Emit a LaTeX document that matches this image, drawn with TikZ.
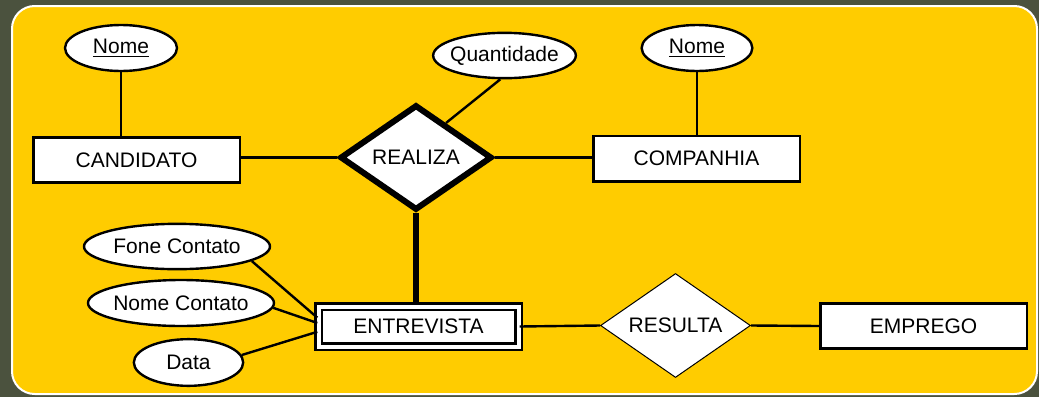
\documentclass[tikz,border=0pt]{standalone}
\usepackage{fontspec}
\setmainfont{Liberation Sans}
\usetikzlibrary{shapes.geometric}
\definecolor{bgolive}{RGB}{75,82,62}
\definecolor{panelyellow}{RGB}{255,204,0}
\begin{document}
\begin{tikzpicture}[x=0.75pt, y=-0.75pt, line width=1.8pt,
  every node/.style={align=center, inner sep=0pt, font=\fontsize{15.75}{18}\selectfont},
  entity/.style={draw, fill=white, rectangle, line width=2pt, minimum width=155pt, minimum height=34pt},
  weakentity/.style={draw, fill=white, rectangle, double=white, double distance=3pt, line width=1.8pt, minimum width=150pt, minimum height=30pt},
  attrib/.style={draw, fill=white, ellipse, line width=1.8pt},
  rel/.style={draw, fill=white, diamond, aspect=1.5}]
\useasboundingbox (0,0) rectangle (1039,397);
\fill[bgolive] (0,0) rectangle (1039,397);
\filldraw[fill=panelyellow, draw=white, line width=1.5pt, rounded corners=17pt] (12,6) rectangle (1037,394);

\node (cand)    [entity]     at (136.5,160)   {CANDIDATO};
\node (comp)    [entity]     at (696.5,158.5) {COMPANHIA};
\node (empr)    [entity]     at (923.5,326)   {EMPREGO};
\node (entr)    [weakentity] at (418.5,326.5) {ENTREVISTA};
\node (realiza) [rel, line width=4.5pt, minimum width=114pt, minimum height=79pt] at (416,157.5) {REALIZA};
\node (resulta) [rel, line width=0.75pt, minimum width=112.5pt, minimum height=78pt] at (675.5,325.5) {RESULTA};

\node (nomecand) [attrib, minimum width=84pt, minimum height=34.5pt]    at (121,48)      {\underline{Nome}};
\node (nomecomp) [attrib, minimum width=83pt, minimum height=34.5pt]    at (697,48)      {\underline{Nome}};
\node (quant)    [attrib, minimum width=107pt, minimum height=34pt]     at (504.5,55.5)  {\makebox[0pt]{Quantidade}};
\node (fone)     [attrib, minimum width=139.5pt, minimum height=34pt]   at (177,246.5)   {\makebox[0pt]{Fone Contato}};
\node (nomecont) [attrib, minimum width=139.5pt, minimum height=34.5pt] at (181,303)     {\makebox[0pt]{Nome Contato}};
\node (data)     [attrib, minimum width=82pt, minimum height=35pt]      at (188.5,362.5) {Data};

\draw (nomecand.south) -- (nomecand.south |- cand.north);
\draw (nomecomp.south) -- (nomecomp.south |- comp.north);
\draw (cand.east |- realiza.west) -- (realiza.west);
\draw (realiza.east) -- (realiza.east -| comp.west);
\draw (quant.260) -- (realiza.49);
\draw[line width=4.5pt] (realiza.south) -- (realiza.south |- entr.north);
\draw (fone.-11)    -- (entr.175);
\draw (nomecont.-3) -- (entr.178);
\draw (data.8)      -- (entr.183);
\draw (entr.east)    -- (resulta.west);
\draw (resulta.east) -- (empr.west);
\end{tikzpicture}
\end{document}
